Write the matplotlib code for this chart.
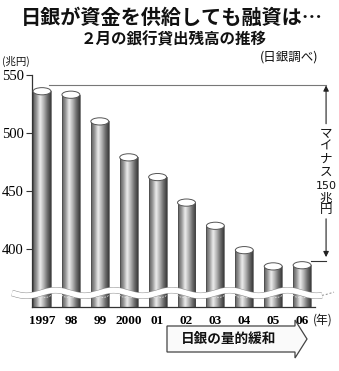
import numpy as np
import matplotlib
matplotlib.use("Agg")
import matplotlib.pyplot as plt
from matplotlib.colors import LinearSegmentedColormap
from matplotlib.patches import Ellipse, Arc, Polygon

plt.rcParams['font.family'] = ['Noto Sans CJK JP', 'DejaVu Sans']

# 2月の銀行貸出残高（兆円）
years = ['1997', '98', '99', '2000', '01', '02', '03', '04', '05', '06']
loans = [536, 533, 510, 479, 462, 440, 420, 399, 385, 386]
yticks = [400, 450, 500, 550]

W, H = 339, 371
fig = plt.figure(figsize=(W / 100, H / 100), dpi=100)


def fx(px):
    return px / W


def fy(py):
    return 1 - py / H


ax = fig.add_axes([fx(32), fy(307), (315 - 32) / W, (307 - 75) / H])
y0 = 350
bw = 0.62

# 円柱の陰影
cmap = LinearSegmentedColormap.from_list(
    "cyl", ["#5c5c5c", "#9a9a9a", "#ececec", "#b4b4b4", "#707070", "#3c3c3c"])
grad = np.linspace(0, 1, 64).reshape(1, -1)

x = np.arange(len(loans))
bars = ax.bar(x, np.array(loans) - y0, width=bw, bottom=y0, color='none',
              edgecolor='#4a4a4a', linewidth=0.5, zorder=3)
for i, (b, v) in enumerate(zip(bars, loans)):
    im = ax.imshow(grad, extent=(i - bw / 2, i + bw / 2, y0, v), aspect='auto',
                   cmap=cmap, zorder=2, interpolation='bilinear')
    im.set_clip_path(b)
    ax.add_patch(Ellipse((i, v), bw, 6.2, facecolor='white', edgecolor='#555555',
                         linewidth=0.7, zorder=4))
    ax.add_patch(Arc((i, 360.5), bw, 5, theta1=180, theta2=360, color='#e0e0e0',
                     linewidth=0.6, linestyle=(0, (2, 1.5)), zorder=4))

ax.set_xlim(-0.346, 9.447)
ax.set_ylim(y0, 550)

for s in ['top', 'right']:
    ax.spines[s].set_visible(False)
ax.spines['left'].set_color('#333333')
ax.spines['bottom'].set_color('#333333')
ax.spines['left'].set_linewidth(0.9)
ax.spines['bottom'].set_linewidth(0.9)

ax.set_yticks(yticks)
ax.set_yticklabels([str(t) for t in yticks], family='Liberation Serif', fontsize=10.5)
ax.tick_params(axis='y', length=4, width=0.8, color='#333333', pad=2)
ax.set_xticks(x)
ax.set_xticklabels(years, family='Liberation Serif', fontweight='bold', fontsize=9.5)
ax.tick_params(axis='x', length=0, pad=6)

# 波線（省略記号）
wx = np.linspace(12, 322, 400)
wy = 293 + 2.8 * np.sin(2 * np.pi * (wx - 12) / 58)
ax.plot(fx(wx), fy(wy), transform=fig.transFigure, color='#8a8a8a', lw=4.6,
        clip_on=False, zorder=6, solid_capstyle='butt')
ax.plot(fx(wx), fy(wy), transform=fig.transFigure, color='white', lw=3.9,
        clip_on=False, zorder=7, solid_capstyle='butt')
tx = np.linspace(322, 334, 30)
ty = 293 + 2.8 * np.sin(2 * np.pi * (tx - 12) / 58)
ax.plot(fx(tx), fy(ty), transform=fig.transFigure, color='#8a8a8a', lw=0.7,
        ls=(0, (2, 2)), clip_on=False, zorder=7)

# マイナス150兆円 の矢印
xr = 9.83
top = loans[0] + 5
bot = loans[-1] + 4
ax.plot([0.25, xr], [top, top], color='#777777', lw=0.8, clip_on=False, zorder=5)
ax.plot([9.3, xr], [bot, bot], color='#333333', lw=0.8, clip_on=False, zorder=5)
arr = dict(arrowstyle='-|>', color='#222222', lw=0.8, mutation_scale=8,
           shrinkA=0, shrinkB=0)
ax.annotate('', xy=(xr, top), xytext=(xr, 508), arrowprops=arr, annotation_clip=False)
ax.annotate('', xy=(xr, bot + 3), xytext=(xr, 426), arrowprops=arr, annotation_clip=False)

vchars = [('マ', 133), ('イ', 146), ('ナ', 159), ('ス', 172), ('兆', 198), ('円', 210)]
for ch, py in vchars:
    fig.text(fx(326), fy(py), ch, ha='center', va='center', fontsize=9,
             color='#111111')
fig.text(fx(326), fy(186), '150', ha='center', va='center', fontsize=8,
         family='Liberation Sans Narrow', color='#111111')

# タイトル
fig.text(fx(172), fy(17), '日銀が資金を供給しても融資は…', ha='center', va='center',
         fontsize=14.5, fontweight='bold', color='#111111')
fig.text(fx(174), fy(39), '２月の銀行貸出残高の推移', ha='center', va='center',
         fontsize=11.2, fontweight='bold', color='#111111')
fig.text(fx(2), fy(61), '(兆円)', ha='left', va='center', fontsize=7.5, color='#111111')
fig.text(fx(318), fy(57), '(日銀調べ)', ha='right', va='center', fontsize=9,
         color='#111111')
fig.text(fx(313), fy(320), '(年)', ha='left', va='center', fontsize=8.5,
         color='#111111')

# 日銀の量的緩和 の矢印
pts = [(167, 326), (295, 326), (295, 320), (307, 339), (295, 358), (295, 352), (167, 352)]
fig.add_artist(Polygon([(fx(a), fy(b)) for a, b in pts], closed=True,
                       transform=fig.transFigure, facecolor='#fafafa',
                       edgecolor='#444444', linewidth=0.9))
fig.text(fx(229), fy(339), '日銀の量的緩和', ha='center', va='center', fontsize=9.8,
         fontweight='bold', color='#111111')

fig.savefig("out.png", dpi=100)
